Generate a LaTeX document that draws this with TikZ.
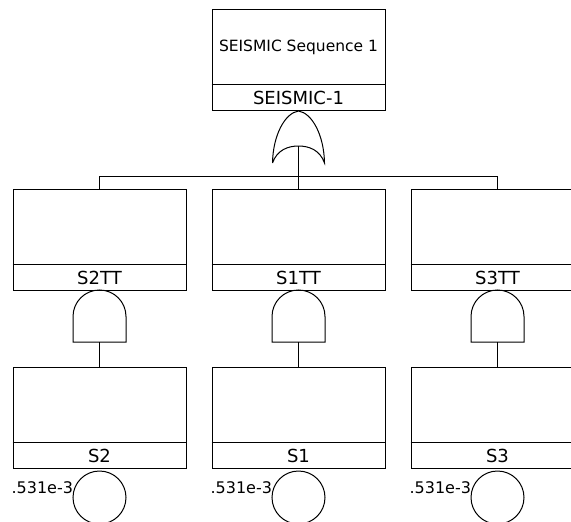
\documentclass[tikz,border=0pt]{standalone}
\usepackage{fontspec}
\setmainfont{DejaVu Sans}
\newcommand\ftbox[4]{%
  \node[box] (#1) at (#2,#3) {};
  \draw ([yshift=27pt]#1.south west) -- ([yshift=27pt]#1.south east);
  \node[lbl, anchor=base] (#1-l) at ([yshift=7pt]#1.south) {#4};
}
\newcommand\andgate[3]{%
  \draw (#2-26.5,#3+52) -- (#2-26.5,#3+26.5) arc[start angle=180, end angle=0, radius=26.5pt]
        -- (#2+26.5,#3+52) -- cycle;
  \coordinate (#1) at (#2,#3+52);
}
\newcommand\basicev[4]{%
  \node[event] (#1) at (#2,497.5) {};
  \begin{scope}
    \clip (#3,455) rectangle (#2,522);
    \node[num, anchor=base east] (#1-p) at (#2-26,493) {#4};
  \end{scope}
}
\begin{document}
\begin{tikzpicture}[x=1pt,y=-1pt,line width=1pt,
  box/.style={draw, rectangle, minimum width=173pt, minimum height=101pt, inner sep=0pt, anchor=north},
  lbl/.style={font=\fontsize{18}{21}\selectfont, inner sep=0pt},
  desc/.style={font=\fontsize{15.5}{18}\selectfont, inner sep=0pt},
  num/.style={font=\fontsize{16}{19}\selectfont, inner sep=0pt},
  event/.style={draw, circle, minimum size=53pt, inner sep=0pt}]
\useasboundingbox (0,0) rectangle (571,522);
\fill[white] (0,0) rectangle (571,522);

% top event
\ftbox{top}{298.5}{9}{SEISMIC-1}
\node[desc, anchor=base] (topd) at (298.5,51) {SEISMIC Sequence 1};

% OR gate
\draw (272.5,163) .. controls (273,135) and (285,113) .. (298.5,111)
      .. controls (312,113) and (324,135) .. (324.5,163)
      .. controls (320,150) and (309,146) .. (298.5,146)
      .. controls (288,146) and (277,150) .. (272.5,163);
\coordinate (orout) at (298.5,146);
\coordinate (bus) at (298.5,176);

% intermediate events
\ftbox{s2tt}{99.5}{189}{S2TT}
\ftbox{s1tt}{298.5}{189}{S1TT}
\ftbox{s3tt}{497.5}{189}{S3TT}

\draw (orout) -- (bus);
\draw (s2tt.north) -- (s2tt.north |- bus) -- (s3tt.north |- bus) -- (s3tt.north);
\draw (s1tt.north) -- (bus);

% AND gates
\andgate{g2}{99.5}{290}
\andgate{g1}{298.5}{290}
\andgate{g3}{497.5}{290}

% bottom events
\ftbox{s2}{99.5}{367}{S2}
\ftbox{s1}{298.5}{367}{S1}
\ftbox{s3}{497.5}{367}{S3}

\draw (g2) -- (s2.north);
\draw (g1) -- (s1.north);
\draw (g3) -- (s3.north);

% basic events
\basicev{e2}{99.5}{13}{0.531e-3}
\basicev{e1}{298.5}{212}{0.531e-3}
\basicev{e3}{497.5}{411}{0.531e-3}
\end{tikzpicture}
\end{document}
